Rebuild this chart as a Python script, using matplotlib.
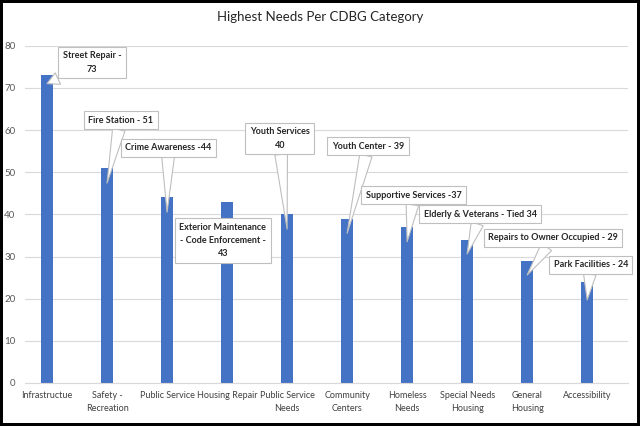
import matplotlib
matplotlib.use("Agg")
import matplotlib.pyplot as plt

plt.rcParams['font.family'] = ['Lato', 'DejaVu Sans']

# data
categories = ['Infrastructue', 'Safety -\nRecreation', 'Public Service', 'Housing Repair',
              'Public Service\nNeeds', 'Community\nCenters', 'Homeless\nNeeds',
              'Special Needs\nHousing', 'General\nHousing', 'Accessibility']
values = [73, 51, 44, 43, 40, 39, 37, 34, 29, 24]
callouts = ['Street Repair -\n73', 'Fire Station - 51', 'Crime Awareness -44',
            'Exterior Maintenance\n- Code Enforcement -\n43', 'Youth Services\n40',
            'Youth Center - 39', 'Supportive Services -37', 'Elderly & Veterans - Tied 34',
            'Repairs to Owner Occupied - 29', 'Park Facilities - 24']

# callout box centres (layout) and how far below the bar top the pointer ends
box_pos = [(0.75, 76), (1.23, 62.3), (2.02, 55.8), (2.93, 33.8), (3.88, 58),
           (5.35, 56.2), (6.11, 44.5), (7.22, 40), (8.43, 34.5), (9.06, 28)]
tip_drop = [2, 3.6, 3.5, None, 3.5, 3.5, 3.5, 3.4, 3.4, 4.3]

fig = plt.figure(figsize=(6.4, 4.26), dpi=100)
fig.patch.set_edgecolor('black')
fig.patch.set_linewidth(3)
ax = fig.add_axes([25 / 640, 43 / 426, 603 / 640, 337.3 / 426])

x = range(len(categories))
ax.bar(x, values, width=0.21, color='#4472c4', zorder=2)
ax.set_xlim(-0.367, 9.68)
ax.set_ylim(0, 80)
ax.set_yticks(range(0, 81, 10))
ax.set_xticks(list(x))
ax.set_xticklabels(categories, fontsize=6.5, color='#404040', linespacing=1.5)
ax.tick_params(axis='y', labelsize=7, labelcolor='#595959', length=0, pad=7)
ax.tick_params(axis='x', length=0, pad=6)
ax.grid(axis='y', color='#d9d9d9', linewidth=0.8, zorder=0)
for s in ['top', 'right', 'left']:
    ax.spines[s].set_visible(False)
ax.spines['bottom'].set_color('#d9d9d9')

fig.text(0.5, 1 - 17 / 426, 'Highest Needs Per CDBG Category', ha='center', va='center',
         fontsize=9.5, color='#262626')

for i, (txt, (bx, by), drop) in enumerate(zip(callouts, box_pos, tip_drop)):
    bbox = dict(boxstyle='square,pad=0.5', fc='white', ec='#bfbfbf', lw=0.8)
    if drop is None:
        ax.text(bx, by, txt, ha='center', va='center', fontsize=6.5, fontweight='bold',
                color='#262626', bbox=bbox, zorder=5, linespacing=1.6)
        continue
    ax.annotate(txt, xy=(i, values[i] - drop), xytext=(bx, by), ha='center', va='center',
                fontsize=6.5, fontweight='bold', color='#262626', bbox=bbox,
                linespacing=1.6, zorder=5,
                arrowprops=dict(arrowstyle='wedge,tail_width=1.4,shrink_factor=0.5',
                                fc='white', ec='#bfbfbf', lw=0.8, shrinkA=0, shrinkB=0))

fig.savefig('out.png', dpi=100)
